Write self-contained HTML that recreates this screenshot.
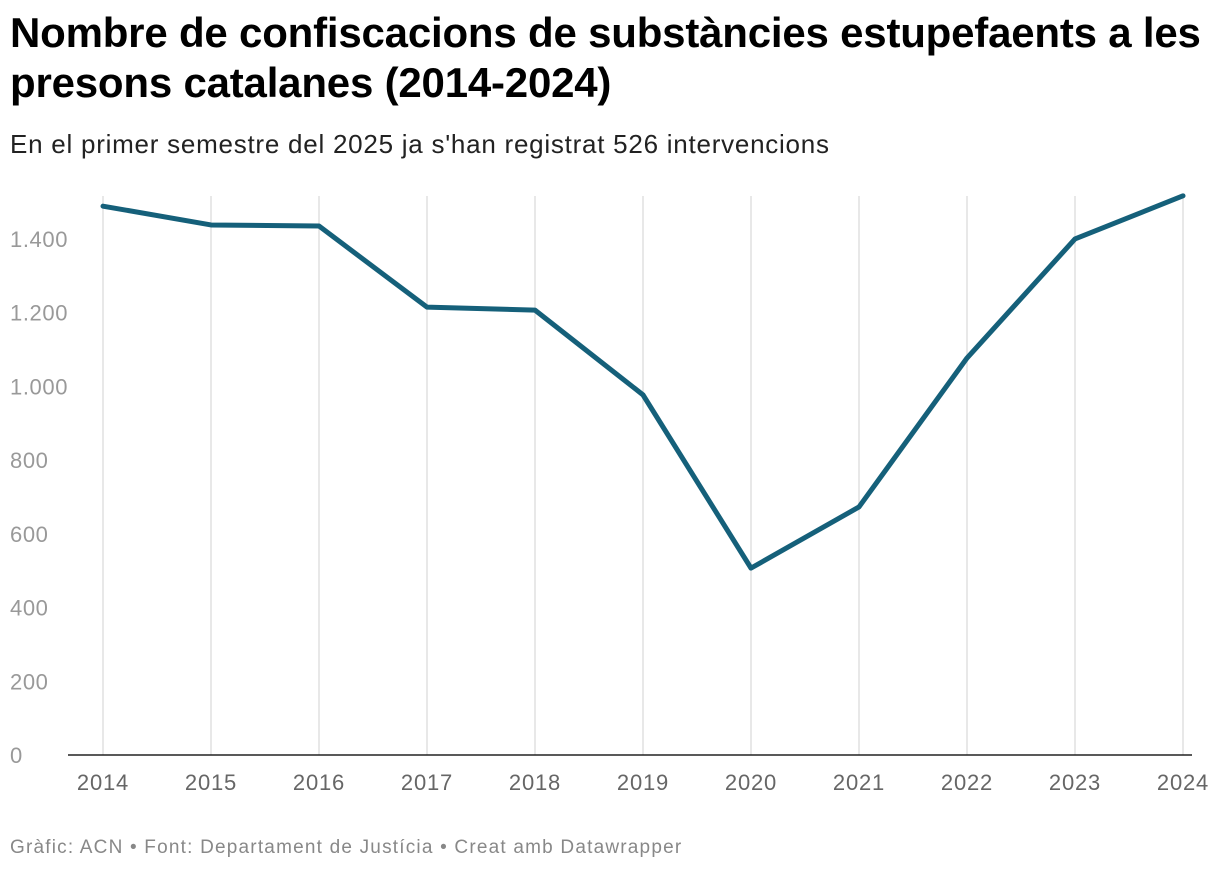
<!DOCTYPE html>
<html><head><meta charset="utf-8"><style>
body{margin:0;width:1220px;height:872px;background:#fff;font-family:"Liberation Sans",sans-serif;overflow:hidden}
h1{position:absolute;left:10px;top:8px;margin:0;font-size:42px;line-height:50px;font-weight:bold;color:#000;letter-spacing:-0.2px;white-space:nowrap}
.sub{position:absolute;left:10px;top:129px;font-size:26px;color:#222;letter-spacing:0.75px;white-space:nowrap}
.foot{position:absolute;left:10px;top:837px;font-size:19px;color:#888;letter-spacing:1.2px;white-space:nowrap}
svg{position:absolute;left:0;top:0}
</style></head><body>
<h1>Nombre de confiscacions de substàncies estupefaents a les<br>presons catalanes (2014-2024)</h1>
<div class="sub">En el primer semestre del 2025 ja s'han registrat 526 intervencions</div>
<div class="foot">Gràfic: ACN • Font: Departament de Justícia • Creat amb Datawrapper</div>
<svg id="c" width="1220" height="872"></svg>
<script>
const years=["2014","2015","2016","2017","2018","2019","2020","2021","2022","2023","2024"];
const values=[1489,1438,1435,1215,1207,977,507,673,1077,1400,1517];
const yTicks=[0,200,400,600,800,1000,1200,1400];
const yLabels=["0","200","400","600","800","1.000","1.200","1.400"];
const NS="http://www.w3.org/2000/svg";
const svg=document.getElementById('c');
const x=i=>103+i*108;
const y=v=>755-v*0.3686;
function mk(t,a){const e=document.createElementNS(NS,t);for(const k in a)e.setAttribute(k,a[k]);svg.appendChild(e);return e;}
years.forEach((yr,i)=>{
  const g=mk('line',{x1:x(i),x2:x(i),y1:196,y2:755,stroke:'#e0e0e0','stroke-width':1.5});
  
  
  const t=mk('text',{x:x(i),y:790,'text-anchor':'middle','font-size':22,fill:'#666','letter-spacing':0.8});
  t.textContent=yr;
  
  
});
yTicks.forEach((v,i)=>{
  const t=mk('text',{x:10,y:y(v)+8,'font-size':22,fill:'#999','letter-spacing':0.6});
  t.textContent=yLabels[i];
  
  
});
const b=mk('line',{x1:68,x2:1192,y1:755,y2:755,stroke:'#222','stroke-width':1.5});


const p=mk('polyline',{points:values.map((v,i)=>x(i)+','+y(v)).join(' '),fill:'none',stroke:'#15607a','stroke-width':5,'stroke-linejoin':'round','stroke-linecap':'round'});


</script>
</body></html>
